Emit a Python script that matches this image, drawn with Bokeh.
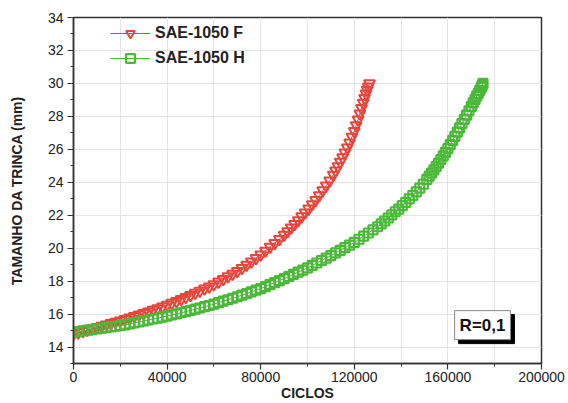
from bokeh.plotting import figure
from bokeh.models import SingleIntervalTicker, BasicTickFormatter, Label, Legend, LegendItem, Range1d
from bokeh.embed import file_html
from bokeh.resources import INLINE

# ---- data ----
f_cycles = [0, 2000, 4000, 6000, 8000, 10000, 12000, 14000, 16000, 18000, 20000, 22000, 24000,
            26000, 28000, 30000, 32000, 34000, 36000, 38000, 40000, 42000, 44000, 46000, 48000,
            50000, 52000, 54000, 56000, 58000, 60000, 62000, 64000, 66000, 68000, 70000, 72000,
            74000, 76000, 78000, 80000, 82000, 84000, 86000, 88000, 90000, 91500, 93000, 94500,
            96000, 97500, 99000, 100500, 102000, 103500, 105000, 106500, 108000, 109500, 111000,
            112000, 113000, 114000, 115000, 116000, 117000, 118000, 119000, 120000, 120800,
            121600, 122400, 123100, 123800, 124400, 125000, 125500, 126000, 126500]
f_crack = [14.80, 14.88, 14.96, 15.04, 15.12, 15.20, 15.28, 15.36, 15.44, 15.52, 15.60, 15.69, 15.78,
           15.87, 15.96, 16.05, 16.15, 16.25, 16.35, 16.45, 16.55, 16.67, 16.79, 16.91, 17.03,
           17.15, 17.28, 17.41, 17.54, 17.67, 17.80, 17.96, 18.12, 18.28, 18.44, 18.60, 18.79,
           18.98, 19.18, 19.39, 19.60, 19.83, 20.07, 20.31, 20.55, 20.80, 21.02, 21.24, 21.46,
           21.69, 21.92, 22.15, 22.39, 22.65, 22.92, 23.20, 23.50, 23.80, 24.10, 24.45,
           24.70, 24.96, 25.23, 25.50, 25.80, 26.10, 26.40, 26.75, 27.10, 27.45,
           27.80, 28.17, 28.50, 28.82, 29.10, 29.38, 29.60, 29.80, 30.00]

h_cycles = [0, 2000, 4000, 6000, 8000, 10000, 12000, 14000, 16000, 18000, 20000, 22000, 24000,
            26000, 28000, 30000, 32000, 34000, 36000, 38000, 40000, 42000, 44000, 46000, 48000,
            50000, 52000, 54000, 56000, 58000, 60000, 62000, 64000, 66000, 68000, 70000, 72000,
            74000, 76000, 78000, 80000, 82000, 84000, 86000, 88000, 90000, 92000, 94000, 96000,
            98000, 100000, 102000, 104000, 106000, 108000, 110000, 112000, 114000, 116000,
            118000, 120000, 122000, 124000, 126000, 128000, 130000, 131500, 133000, 134500,
            136000, 137500, 139000, 140500, 142000, 143500, 145000, 146500, 148000, 149500,
            151000, 152000, 153000, 154000, 155000, 156000, 157000, 158000, 159000, 160000,
            161000, 162000, 163000, 164000, 165000, 166000, 167000, 168000, 169000, 170000,
            170800, 171600, 172300, 173000, 173600, 174200, 174600, 175000]
h_crack = [14.90, 14.94, 14.98, 15.02, 15.06, 15.10, 15.14, 15.18, 15.22, 15.26, 15.30, 15.35, 15.41,
           15.47, 15.52, 15.58, 15.64, 15.70, 15.76, 15.82, 15.88, 15.95, 16.01, 16.08, 16.15,
           16.22, 16.30, 16.37, 16.45, 16.52, 16.60, 16.69, 16.78, 16.87, 16.96, 17.05, 17.15,
           17.25, 17.35, 17.45, 17.55, 17.67, 17.79, 17.91, 18.03, 18.15, 18.28, 18.41, 18.54,
           18.67, 18.80, 18.95, 19.10, 19.25, 19.40, 19.55, 19.71, 19.87, 20.03,
           20.19, 20.35, 20.54, 20.73, 20.92, 21.11, 21.30, 21.47, 21.65, 21.83,
           22.02, 22.21, 22.37, 22.58, 22.78, 22.99, 23.20, 23.42, 23.65, 23.88,
           24.18, 24.37, 24.56, 24.75, 24.95, 25.16, 25.38, 25.60, 25.82, 26.05,
           26.29, 26.54, 26.79, 27.04, 27.30, 27.56, 27.82, 28.08, 28.34, 28.60,
           28.82, 29.03, 29.23, 29.40, 29.57, 29.74, 29.86, 30.00]

series_names = ["SAE-1050 F", "SAE-1050 H"]
x_title = "CICLOS"
y_title = "TAMANHO DA TRINCA (mm)"
annotation = "R=0,1"

RED = "#e8453c"
GREEN = "#4cb83a"
FONT = "Liberation Sans"

p = figure(width=568, height=403, output_backend="svg", toolbar_location=None,
           x_range=Range1d(0, 200000), y_range=Range1d(13, 34),
           min_border_left=73, min_border_right=27, min_border_top=17, min_border_bottom=39)
p.background_fill_color = "white"
p.border_fill_color = "white"
p.outline_line_color = "#333333"
p.outline_line_width = 1.5

# axes
p.xaxis.ticker = SingleIntervalTicker(interval=40000, num_minor_ticks=2)
p.yaxis.ticker = SingleIntervalTicker(interval=2, num_minor_ticks=2)
p.xaxis.formatter = BasicTickFormatter(use_scientific=False)
for ax in (p.xaxis, p.yaxis):
    ax.axis_line_color = "#333333"
    ax.axis_line_width = 1.5
    ax.major_tick_line_color = "#333333"
    ax.minor_tick_line_color = "#333333"
    ax.major_tick_line_width = 1.2
    ax.major_tick_out = 6
    ax.major_tick_in = 0
    ax.minor_tick_out = 3
    ax.minor_tick_in = 0
    ax.major_label_text_font = FONT
    ax.major_label_text_font_size = "14px"
    ax.major_label_text_color = "#222222"
    ax.axis_label_text_font = FONT
    ax.axis_label_text_font_style = "bold"
    ax.axis_label_text_font_size = "14px"
    ax.axis_label_text_color = "#222222"
p.xaxis.major_label_standoff = 2
p.xaxis.axis_label_standoff = 0
p.yaxis.major_label_standoff = 4
p.yaxis.axis_label_standoff = 20
p.xaxis.axis_label = x_title
p.yaxis.axis_label = y_title

# grid
p.xgrid.ticker = SingleIntervalTicker(interval=20000)
p.ygrid.ticker = SingleIntervalTicker(interval=2)
p.grid.grid_line_color = "#e4e4e4"
p.grid.grid_line_width = 1

# series
lf = p.line(f_cycles, f_crack, line_color=RED, line_width=1)
sf = p.scatter(f_cycles, f_crack, marker="inverted_triangle", size=11, fill_color="white",
               fill_alpha=0.0, line_color=RED, line_width=2.0)
lh = p.line(h_cycles, h_crack, line_color=GREEN, line_width=1)
sh = p.scatter(h_cycles, h_crack, marker="square", size=9, fill_color="white",
               fill_alpha=0.0, line_color=GREEN, line_width=2.2)

legend = Legend(items=[LegendItem(label=series_names[0], renderers=[lf, sf]),
                       LegendItem(label=series_names[1], renderers=[lh, sh])],
                location=(37, 294), margin=0, padding=0, spacing=3,
                glyph_width=40, glyph_height=22, label_height=22, label_standoff=5,
                border_line_color=None, background_fill_alpha=0.0)
legend.label_text_font = FONT
legend.label_text_font_style = "bold"
legend.label_text_font_size = "16px"
legend.label_text_color = "#222222"
p.add_layout(legend)

# R=0,1 box with shadow
shadow = Label(x=174800, y=15.33, text=annotation, text_align="center", text_baseline="middle",
               x_offset=4, y_offset=-4, text_font=FONT, text_font_style="bold",
               text_font_size="17px", text_color="black", background_fill_color="black",
               border_line_color="black", padding=5)
box = Label(x=174800, y=15.33, text=annotation, text_align="center", text_baseline="middle",
            text_font=FONT, text_font_style="bold", text_font_size="17px", text_color="#111111",
            background_fill_color="white", border_line_color="#888888", border_line_width=1,
            padding=5)
p.add_layout(shadow)
p.add_layout(box)

open("out.html", "w").write(file_html(p, INLINE))
